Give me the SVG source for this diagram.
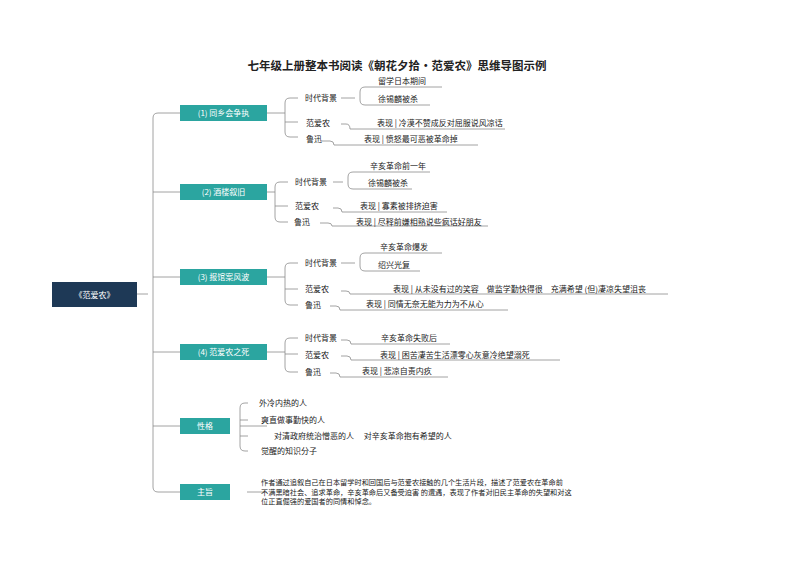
<svg xmlns="http://www.w3.org/2000/svg" width="794" height="561" viewBox="0 0 794 561">
<style>
text{font-family:"Noto Sans CJK SC","Liberation Sans",sans-serif;font-size:8px;fill:#222}
.t{font-size:11.5px;font-weight:bold}
.bx{fill:#2ba5a0}
.bt{fill:#fff;font-size:8px;text-anchor:middle}
.c{fill:none;stroke:#8c8c8c;stroke-width:0.8}
.s{font-size:7.2px}
</style>
<rect width="794" height="561" fill="#fff"/>
<text class="t" x="397" y="70" text-anchor="middle">七年级上册整本书阅读《朝花夕拾·范爱农》思维导图示例</text>
<g id="connectors">
<path class="c" d="M137 294H148M153 118Q153 113 158 113H180M153 118V487Q153 492 158 492H180M153 192H180M153 277H180M153 352H180M153 426H180"/>
<path class="c" d="M267 113H285M290 98Q285 98 285 103V132Q285 137 290 137H298M285 122H298M290 98H298M341 98H355M360 92Q360 87 365 87H442M360 92V100Q360 105 365 105H430M341 124H346Q350 124 350 129H505M322 141H330Q334 141 334 145H478"/>
<path class="c" d="M267 192H275M280 182Q275 182 275 187V217Q275 222 280 222H288M275 206H288M280 182H288M333 182H343M348 177Q348 172 353 172H430M348 177V184Q348 189 353 189H412M333 208H338Q342 208 342 212H447M320 223H328Q332 223 332 226H488"/>
<path class="c" d="M267 277H285M290 263Q285 263 285 268V300Q285 305 290 305H298M285 289H298M290 263H298M341 263H355M360 258Q360 253 365 253H442M360 258V266Q360 271 365 271H420M341 291H346Q350 291 350 294H668M330 306H336Q340 306 340 310H508"/>
<path class="c" d="M267 352H285M290 338Q285 338 285 343V367Q285 372 290 372H298M285 354H298M290 338H298M341 340H347Q351 340 351 344H450M341 356H347Q351 356 351 360H560M330 373H336Q340 373 340 377H448"/>
<path class="c" d="M267 426H240M245 403Q240 403 240 408V446Q240 451 245 451H248M240 420H248M240 436H248M245 403H248"/>
<path class="c" d="M267 492H247"/>
</g>
<g id="root"><rect x="52" y="282" width="85" height="25" fill="#1e3956"/><text class="bt" x="94.5" y="297.5">《范爱农》</text></g>
<g id="b1"><rect class="bx" x="180" y="105" width="87" height="16"/><text class="bt" x="223.5" y="116">(1) 同乡会争执</text>
<text x="305" y="101">时代背景</text><text x="306" y="126">范爱农</text><text x="306" y="142">鲁迅</text>
<text x="378" y="84">留学日本期间</text><text x="378" y="102">徐锡麟被杀</text>
<text x="377" y="126">表现 | 冷漠不赞成反对屈服说风凉话</text><text x="364" y="142">表现 | 愤怒最可恶被革命掉</text></g>
<g id="b2"><rect class="bx" x="180" y="184" width="87" height="16"/><text class="bt" x="223.5" y="195">(2) 酒楼叙旧</text>
<text x="295" y="185">时代背景</text><text x="295" y="209">范爱农</text><text x="294" y="225">鲁迅</text>
<text x="370" y="169">辛亥革命前一年</text><text x="368" y="186">徐锡麟被杀</text>
<text x="360" y="209">表现 | 寡素被排挤迫害</text><text x="356" y="225">表现 | 尽释前嫌相熟说些疯话好朋友</text></g>
<g id="b3"><rect class="bx" x="180" y="269" width="87" height="16"/><text class="bt" x="223.5" y="280">(3) 报馆案风波</text>
<text x="305" y="266">时代背景</text><text x="305" y="292">范爱农</text><text x="305" y="308">鲁迅</text>
<text x="380" y="250">辛亥革命爆发</text><text x="378" y="268">绍兴光复</text>
<text x="393" y="292">表现 | 从未没有过的笑容　做监学勤快得很　充满希望 (但)凄凉失望沮丧</text><text x="366" y="307">表现 | 同情无奈无能为力为不从心</text></g>
<g id="b4"><rect class="bx" x="180" y="344" width="87" height="16"/><text class="bt" x="223.5" y="355">(4) 范爱农之死</text>
<text x="305" y="341">时代背景</text><text x="305" y="358">范爱农</text><text x="305" y="375">鲁迅</text>
<text x="381" y="341">辛亥革命失败后</text><text x="380" y="358">表现 | 困苦凄苦生活漂零心灰意冷绝望溺死</text><text x="362" y="374">表现 | 悲凉自责内疚</text></g>
<g id="b5"><rect class="bx" x="180" y="418" width="50" height="16"/><text class="bt" x="205" y="429">性格</text>
<text x="259" y="406">外冷内热的人</text><text x="261" y="423">爽直做事勤快的人</text><text x="274" y="439">对清政府统治憎恶的人　 对辛亥革命抱有希望的人</text><text x="261" y="454">觉醒的知识分子</text></g>
<g id="b6"><rect class="bx" x="180" y="484" width="50" height="16"/><text class="bt" x="205" y="495">主旨</text>
<text class="s" x="261" y="485">作者通过追叙自己在日本留学时和回国后与范爱农接触的几个生活片段，描述了范爱农在革命前</text>
<text class="s" x="261" y="494.5">不满黑暗社会、追求革命，辛亥革命后又备受迫害 的遭遇，表现了作者对旧民主革命的失望和对这</text>
<text class="s" x="261" y="504">位正直倔强的爱国者的同情和悼念。</text></g>
</svg>
